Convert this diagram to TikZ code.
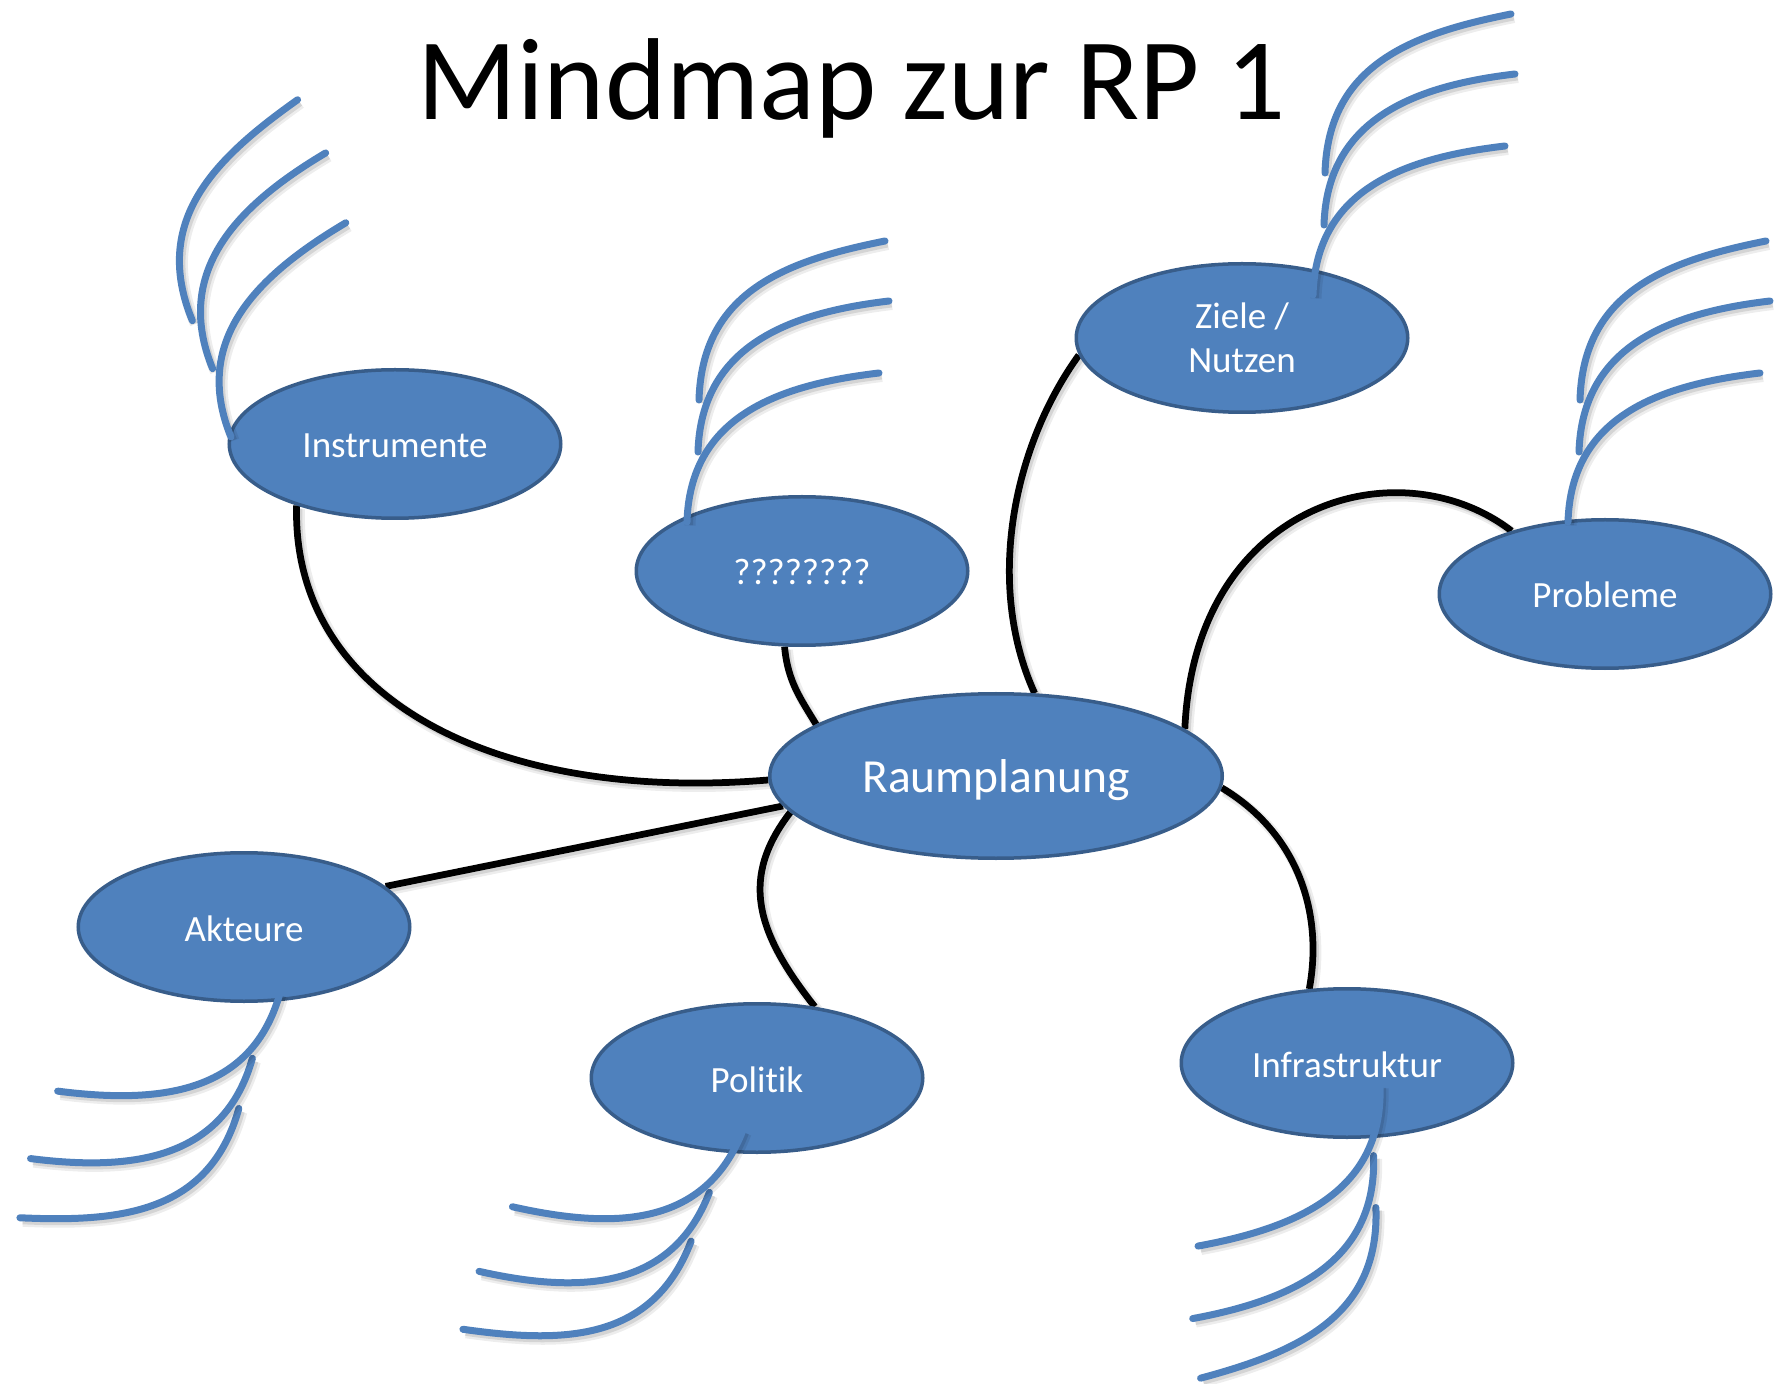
\documentclass[tikz,border=0pt]{standalone}
\usepackage{fontspec}
\setmainfont[Ligatures=NoCommon]{Carlito}
\usetikzlibrary{shapes.geometric,backgrounds}
\definecolor{topicfill}{HTML}{4F81BD}
\definecolor{topicedge}{HTML}{385D8A}
\begin{document}
\begin{tikzpicture}[x=0.4pt, y=-0.4pt,
  softshadow/.style={
    preaction={draw=black, draw opacity=0.07, line width=#1+1.6pt,
      transform canvas={xshift=1.2pt, yshift=-1.4pt}},
    preaction={draw=black, draw opacity=0.10, line width=#1,
      transform canvas={xshift=1.0pt, yshift=-1.2pt}}},
  topic/.style={ellipse, draw=topicedge, line width=1.4pt, fill=topicfill,
    text=white, inner sep=0pt, minimum width=132.6pt, minimum height=59.4pt,
    font=\fontsize{14.8}{17.8}\selectfont, text height=11.2pt, text depth=0pt},
  link/.style={draw=black, line width=2.7pt, softshadow=2.7pt},
  whisker/.style={draw=topicfill, line width=2.8pt, line cap=round, softshadow=2.8pt},
  pics/whiskers/.style={code={
    \draw[whisker] (12,-122) .. controls (15,-230) and (98,-261) .. (198,-281);
    \draw[whisker] (11,-70) .. controls (14,-175) and (100,-209) .. (202,-221);
    \draw[whisker] (0,0) .. controls (3,-105) and (90,-137) .. (192,-149);
  }}
]
\useasboundingbox (0,0) rectangle (1787,1384);

% title
\node[anchor=base, font=\fontsize{46.6}{56}\selectfont] (title) at (851.5,120) {Mindmap zur RP 1};

% topics
\node[topic, minimum width=181pt, minimum height=65.8pt,
  font=\fontsize{19}{23}\selectfont, text height=12.9pt] (rp) at (996,776) {Raumplanung};
\node[topic] (instr) at (395,444) {Instrumente};
\node[topic] (quest) at (802,571) {????????};
\node[topic, align=center, text height=, text depth=] (ziele) at (1242,338) {Ziele /\\Nutzen};
\node[topic] (prob) at (1605,594) {Probleme};
\node[topic] (akt) at (244,927) {Akteure};
\node[topic] (pol) at (757,1078) {Politik};
\node[topic] (infra) at (1347,1063) {Infrastruktur};

% branches behind the topics
\begin{scope}[on background layer]
  \fill[white] (0,0) rectangle (1787,1384);
  \draw[link] (instr.212) .. controls +(-5,190) and +(-278,23) .. (rp.181);
  \draw[link] (quest.257) .. controls +(3,35) and +(-15,-25) .. (rp.164);
  \draw[link] (rp.65) .. controls +(-50,-110) and +(-65,90) .. (ziele.186);
  \draw[link] (rp.14) .. controls +(10,-228) and +(-112,-86) .. (prob.146);
  \draw[link] (rp.188) -- (akt.16);
  \draw[link] (rp.190) .. controls +(-50,65) and +(-60,-76) .. (pol.51);
  \draw[link] (rp.357) .. controls +(77,46) and +(14,-75) .. (infra.117);
\end{scope}

% sub-branch strokes on each topic
\pic[rotate=24] at (231,437) {whiskers};
\pic at (687,522) {whiskers};
\pic at (1313,295) {whiskers};
\pic at (1568,522) {whiskers};
\pic[rotate=166] at (280,993) {whiskers};
\pic[rotate=160.6] at (743,1130) {whiskers};
\pic[rotate=183.7] at (1380,1085) {whiskers};
\end{tikzpicture}
\end{document}
